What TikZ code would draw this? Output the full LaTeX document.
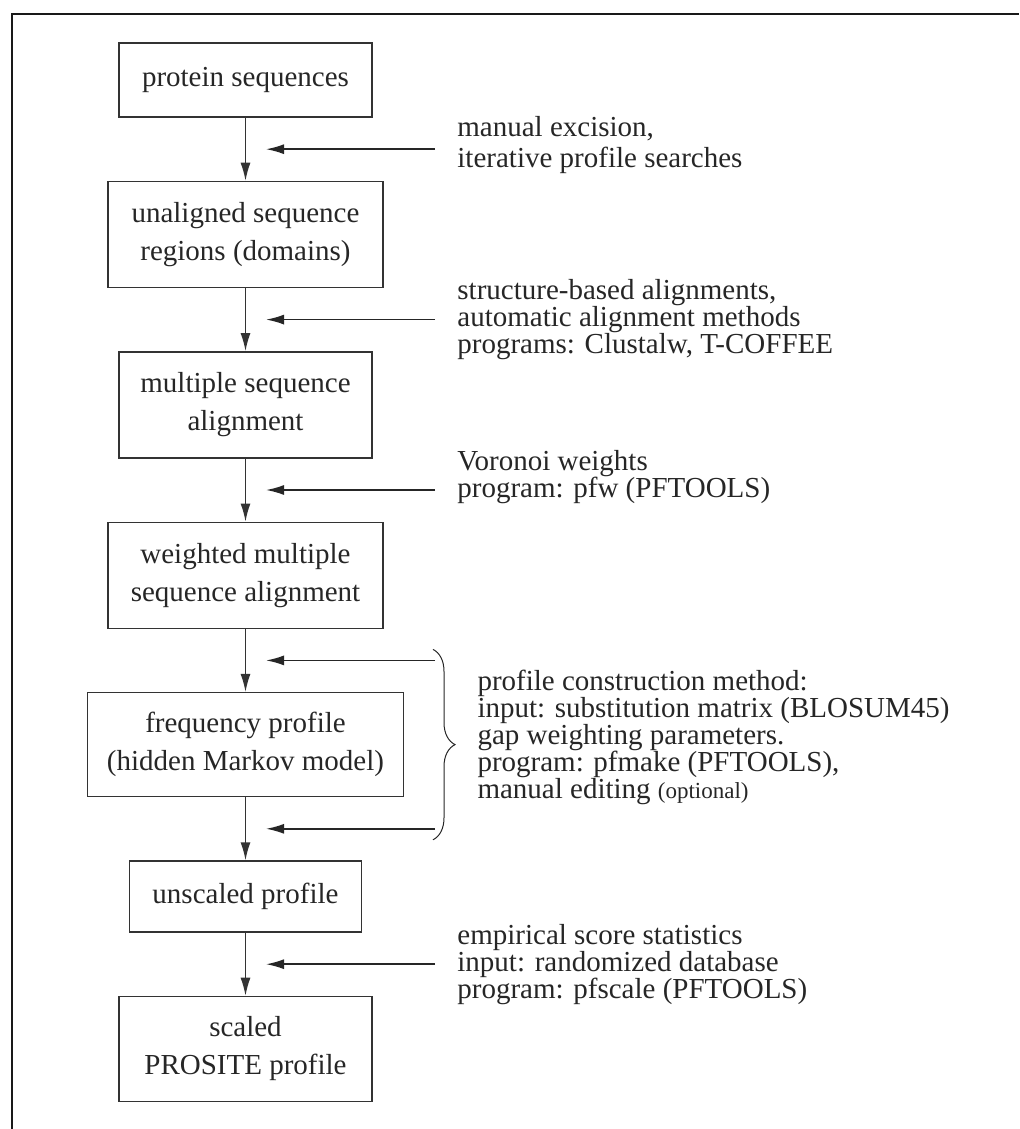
\documentclass[tikz,border=0pt]{standalone}
\usepackage{fontspec}
\setmainfont{Liberation Serif}
\usetikzlibrary{positioning, arrows.meta, calc, decorations.pathreplacing}

\begin{document}
\begin{tikzpicture}
	[x=0.5pt, y=-0.5pt, node distance=31.5pt, >={Latex[length=9pt,width=5pt]},
	 every node/.style={text=black!85, font=\fontsize{14.5}{19}\selectfont},
	 box/.style={draw=black!80, line width=0.7pt, align=center, minimum height=53pt, inner sep=0pt},
	 note/.style={align=left, anchor=west, inner sep=0pt, font=\fontsize{14.5}{13.5}\selectfont}]
   \useasboundingbox (0,0) rectangle (1019,1129);
   \draw[line width=1.4pt, black!90] (12,1129) -- (12,14) -- (1019,14);
   % steps
   \node[box, minimum width=126.5pt, minimum height=37pt] (s_1) at (245.5,80) {protein sequences};
   \node[box, minimum width=137.5pt] (s_2) [below=of s_1] {unaligned sequence\\regions (domains)};
   \node[box, minimum width=126.5pt] (s_3) [below=of s_2] {multiple sequence\\alignment};
   \node[box, minimum width=137.5pt] (s_4) [below=of s_3] {weighted multiple\\sequence alignment};
   \node[box, minimum width=158pt, minimum height=52pt] (s_5) [below=of s_4] {frequency profile\\(hidden Markov model)};
   \node[box, minimum width=116pt, minimum height=35.5pt] (s_6) [below=of s_5] {unscaled profile};
   \node[box, minimum width=126.5pt, minimum height=52.5pt] (s_7) [below=of s_6] {scaled\\PROSITE profile};
    \path[->, line width=0.7pt, black!80]
    (s_1) edge (s_2)
    (s_2) edge (s_3)
    (s_3) edge (s_4)
    (s_4) edge (s_5)
    (s_5) edge (s_6)
    (s_6) edge (s_7);
   % side inputs
   \foreach \i/\j in {1/2,2/3,3/4,4/5,5/6,6/7} {
     \coordinate (m_\i) at ($(s_\i.south)!0.5!(s_\j.north)$);
     \coordinate (tip_\i) at ($(m_\i)+(20.5,0)$);
     \coordinate (src_\i) at ($(m_\i)+(189.5,0)$);
     \draw[->, line width=0.8pt, black!85] (src_\i) -- (tip_\i);
   }
   \node[note, font=\fontsize{14.5}{15.5}\selectfont] (n_1) [right=11pt of src_1, yshift=2pt]
     {manual excision,\\iterative profile searches};
   \node[note] (n_2) [right=11pt of src_2]
     {structure-based alignments,\\automatic alignment methods\\programs: Clustalw, T-COFFEE};
   \node[note] (n_3) [right=11pt of src_3, yshift=6.5pt]
     {Voronoi weights\\program: pfw (PFTOOLS)};
   \draw[decorate, decoration={brace, amplitude=11pt}, line width=0.5pt, black!85]
     ($(src_4)+(-2,-11)$) -- ($(src_5)+(-2,11)$)
     node[note, midway, xshift=22pt, yshift=3.5pt] (n_4)
     {profile construction method:\\input: substitution matrix (BLOSUM45)\\gap weighting parameters.\\program: pfmake (PFTOOLS),\\manual editing {\fontsize{11.5}{13.5}\selectfont(optional)}};
   \node[note] (n_5) [right=11pt of src_6]
     {empirical score statistics\\input: randomized database\\program: pfscale (PFTOOLS)};
\end{tikzpicture}
\end{document}
